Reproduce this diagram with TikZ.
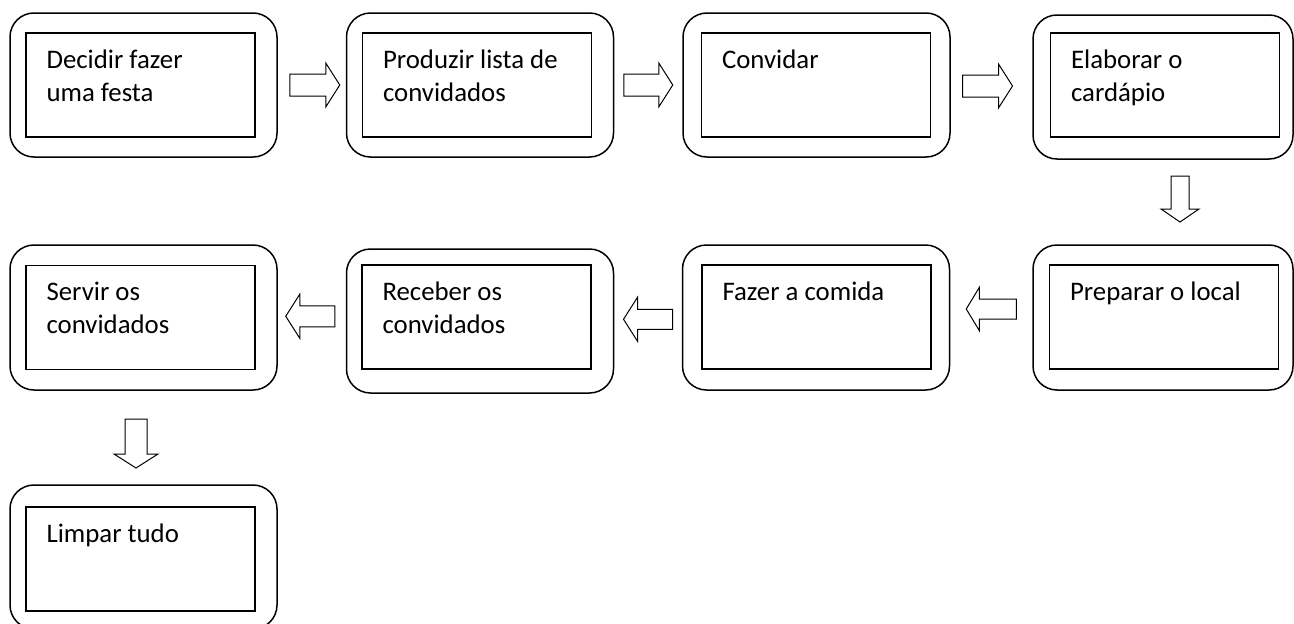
\documentclass[tikz,border=0pt]{standalone}
\usepackage{fontspec}
\setmainfont{Carlito}
\usetikzlibrary{calc}
\tikzset{
  outerbox/.style={draw, line width=1.5pt, rounded corners=24pt, minimum width=267pt, minimum height=144pt, inner sep=0pt},
  innerbox/.style={draw, line width=1.3pt, minimum width=229pt, minimum height=104pt, inner sep=0pt},
  boxtext/.style={anchor=base west, inner sep=0pt, font=\fontsize{26.8}{33}\selectfont},
  arrowline/.style={draw, line width=1pt, line join=miter, fill=white},
  pics/barrow/.style args={#1/#2/#3/#4}{code={
    \draw[arrowline] ({-#1/2},{-#2}) -- ({#1/2-#3},{-#2}) -- ({#1/2-#3},{-#4}) -- ({#1/2},0)
      -- ({#1/2-#3},{#4}) -- ({#1/2-#3},{#2}) -- ({-#1/2},{#2}) -- cycle;}}
}
\newcommand\stepbx[5]{%
  \node[outerbox,#5] (o#1) at (#2) {};
  \node[innerbox] (b#1) at (#3) {};
  \node[boxtext] (t#1) at ($(b#1.north west)+(21,36)$) {\vtop{#4}};
}
\begin{document}
\begin{tikzpicture}[x=1pt,y=-1pt]
\useasboundingbox (0,0) rectangle (1294,624);
% row 1
\stepbx{1}{143.5,85}{140.5,85}{\hbox{Decidir fazer}\hbox{uma festa}}{}
\stepbx{2}{480,85}{477,85}{\hbox{Produzir lista de}\hbox{convidados}}{}
\stepbx{3}{816.5,85}{816,85}{\hbox{Convidar}}{}
\stepbx{4}{1163,87}{1165,85}{\hbox{Elaborar o}\hbox{cardápio}}{minimum width=260pt}
% row 2
\stepbx{5}{1163,317.5}{1164,317}{\hbox{Preparar o local}}{minimum width=260pt, minimum height=145pt}
\stepbx{6}{816,317.5}{816.5,317}{\hbox{Fazer a comida}}{minimum height=145pt}
\stepbx{7}{480,321}{476.5,317}{\hbox{Receber os}\hbox{convidados}}{}
\stepbx{8}{143.5,317.5}{140.5,317.5}{\hbox{Servir os}\hbox{convidados}}{minimum height=145pt}
% row 3
\stepbx{9}{143.5,557}{140.5,559}{\hbox{Limpar tudo}}{}
% block arrows
\path ($(o1.east)!0.5!(o2.west)$) ++(3,0) pic {barrow=50/11/14/22};
\path ($(o2.east)!0.5!(o3.west)$) pic {barrow=49/11/14/22};
\path ($(o3.east)!0.5!(o4.west)$) ++(-4,0) pic {barrow=50/11/14/22};
\path ($(o4.south)!0.5!(o5.north)$) ++(17,-3) pic[rotate=-90] {barrow=46/9/13/19};
\path ($(o5.west)!0.5!(o6.east)$) ++(0,-8.5) pic[rotate=180] {barrow=50/10/13/21.5};
\path ($(o6.west)!0.5!(o7.east)$) ++(0,0) pic[rotate=180] {barrow=49/10/14/22};
\path ($(o7.west)!0.5!(o8.east)$) ++(-1.5,-3) pic[rotate=180] {barrow=49/10.5/14/22};
\path ($(o8.south)!0.5!(o9.north)$) ++(-7.5,6) pic[rotate=-90] {barrow=49/11/14/22};
\end{tikzpicture}
\end{document}
